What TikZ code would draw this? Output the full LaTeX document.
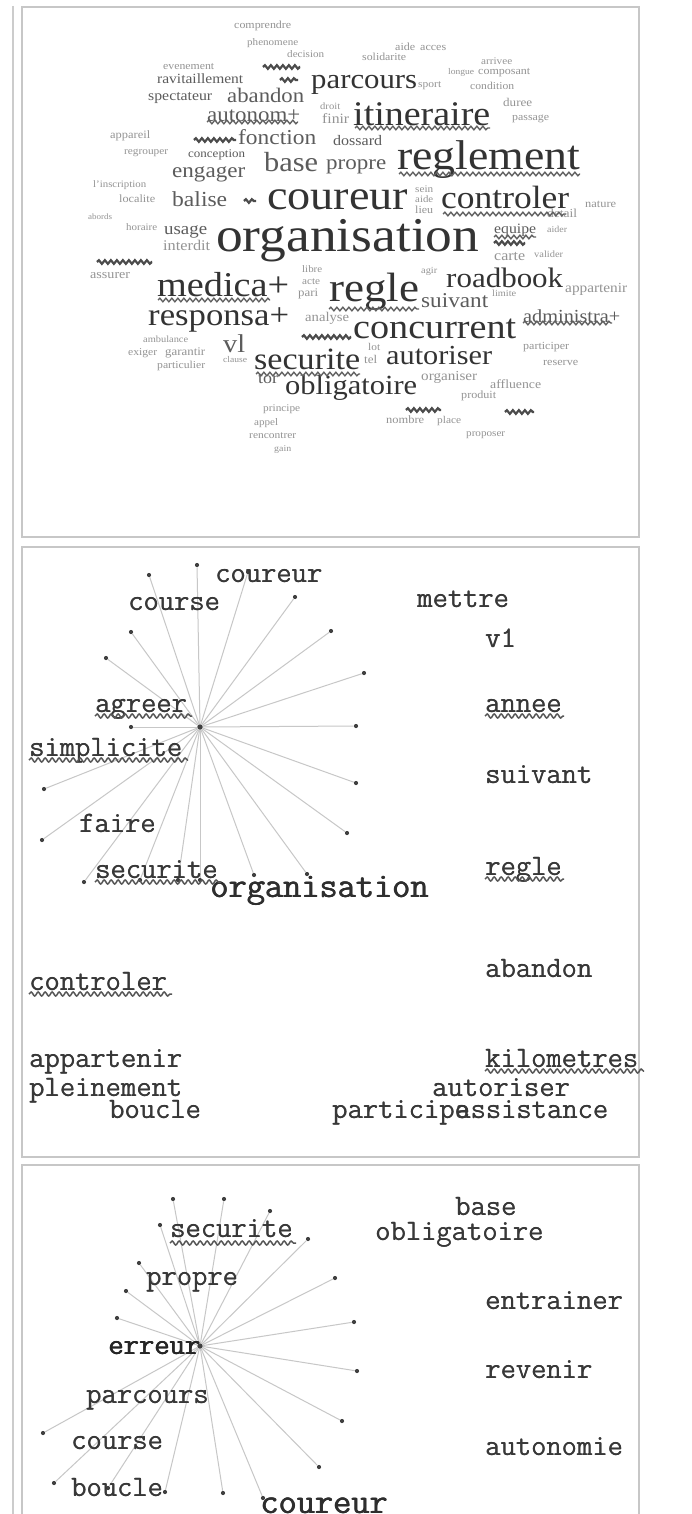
\documentclass[tikz,border=0pt]{standalone}
\usepackage{fontspec}
\setmainfont{Liberation Serif}
\usepackage{graphicx}
\usetikzlibrary{decorations.pathmorphing}
\newcommand\cw[2]{\resizebox{#1pt}{!}{\scalebox{1.1}[1]{#2}}}
\newcommand\fbold[1]{\rlap{\kern0.7pt#1}\rlap{\kern0.35pt#1}#1}
\newcommand\sbold[1]{\rlap{\kern0.3pt#1}#1}
\tikzset{
 panel/.style={draw=black!22, line width=1.5pt},
 big/.style={anchor=base west, inner sep=0pt, text=black!80},
 mid/.style={anchor=base west, inner sep=0pt, text=black!64},
 tiny/.style={anchor=base west, inner sep=0pt, text=black!42},
 wavy/.style={decorate, decoration={snake, segment length=6pt, amplitude=1.8pt}, line width=1.4pt, draw=black!62},
 squig/.style={wavy, line width=2.2pt, draw=black!70},
 mwavy/.style={decorate, decoration={snake, segment length=7pt, amplitude=2pt}, line width=1.5pt, draw=black!66},
 lab/.style={anchor=base west, inner sep=0pt, text=black!78, font=\ttfamily\fontsize{29.7}{29.7}\selectfont},
 labb/.style={lab, font=\ttfamily\fontsize{35.3}{35.3}\selectfont, text=black!82},
 dot/.style={circle, fill=black!75, inner sep=0pt, minimum size=4.2pt},
 hub/.style={dot, minimum size=5.5pt},
 edge/.style={draw=black!22, line width=1pt},
}
\begin{document}
\begin{tikzpicture}[x=1pt,y=-1pt]
\useasboundingbox (0,0) rectangle (692,1514);
\clip (0,0) rectangle (692,1514);
\fill[white] (0,0) rectangle (692,1514);
% frame lines
\draw[draw=black!20, line width=2.2pt] (13,6) -- (13,1520);
\draw[panel] (22,7) rectangle (639,537);
\draw[panel] (22,547) rectangle (639,1157);
\draw[panel] (22,1165) rectangle (639,1540);

% ---------------- word cloud ----------------
\foreach [count=\i] \x/\y/\w/\t in {
216/252/263/organisation, 397/170/183/reglement, 267/210/141/coureur,
353/126/137/itineraire, 329/301/90/regle, 441/209/128/controler,
157/296/132/medica+, 148/325/141/responsa+, 353/338/163/concurrent,
446/287/117/roadbook, 254/369/106/securite, 386/364/106/autoriser,
285/394/132/obligatoire, 311/89/106/parcours}
 {\node[big] (b\i) at (\x,\y) {\cw{\w}{\t}};}
\foreach [count=\i] \x/\y/\w/\t in {
227/103/77/abandon, 207/122/93/autonom+, 238/145/78/fonction,
264/172/54/base, 326/170/60/propre, 172/178/73/engager,
172/207/55/balise, 164/235/43/usage, 421/307/67/suivant,
223/352/22/vl, 523/322/97/administra+, 494/234/42/equipe,
333/146/49/dossard, 188/158/57/conception, 258/383/20/tor,
157/84/86/ravitaillement, 148/101/64/spectateur}
 {\node[mid] (m\i) at (\x,\y) {\cw{\w}{\t}};}
\foreach [count=\i] \x/\y/\w/\t in {
234/29/57/comprendre, 247/46/51/phenomene, 287/58/37/decision,
395/51/20/aide, 420/51/26/acces, 362/61/44/solidarite,
163/70/51/evenement, 481/65/31/arrivee, 418/88/23/sport,
448/75/26/longue, 478/75/52/composant, 470/90/44/condition,
320/110/20/droit, 503/107/29/duree, 512/121/37/passage,
322/124/27/finir, 110/139/40/appareil, 124/155/44/regrouper,
93/188/53/l'inscription, 119/203/36/localite, 88/220/24/abords,
126/231/31/horaire, 163/251/47/interdit, 90/278/40/assurer,
415/193/18/sein, 415/203/18/aide, 415/214/18/lieu,
585/208/31/nature, 547/218/30/detail, 547/233/20/aider,
494/260/31/carte, 534/258/29/valider, 302/272/20/libre,
302/284/18/acte, 298/296/20/pari, 421/273/16/agir,
565/292/62/appartenir, 492/296/24/limite, 305/321/44/analyse,
143/342/45/ambulance, 128/355/29/exiger, 165/355/40/garantir,
157/368/48/particulier, 223/362/24/clause, 368/350/12/lot,
364/363/13/tel, 421/380/56/organiser, 490/388/51/affluence,
461/398/35/produit, 263/411/37/principe, 254/425/24/appel,
249/438/47/rencontrer, 274/451/17/gain, 386/423/38/nombre,
437/423/24/place, 466/436/39/proposer, 523/349/46/participer,
543/365/35/reserve}
 {\node[tiny] (s\i) at (\x,\y) {\cw{\w}{\t}};}
% squiggles
\draw[squig] (263,67) -- (300,67);
\draw[squig] (280,80) -- (298,80);
\draw[squig] (194,140) -- (236,140);
\draw[squig] (244,201) -- (256,201);
\draw[squig] (97,262) -- (152,262);
\draw[squig] (406,410) -- (441,410);
\draw[squig] (505,412) -- (534,412);
\draw[squig] (494,243) -- (525,243);
\draw[squig] (302,337) -- (351,337);
% wavy underlines
\draw[wavy] (355,128) -- (490,128);
\draw[wavy] (207,122) -- (298,122);
\draw[wavy] (399,174) -- (580,174);
\draw[wavy] (443,214) -- (566,214);
\draw[wavy] (494,237) -- (536,237);
\draw[wavy] (158,300) -- (270,300);
\draw[wavy] (329,309) -- (419,309);
\draw[wavy] (523,323) -- (612,323);
\draw[wavy] (256,374) -- (360,374);

% ---------------- panel 2 ----------------
\node[hub] (h2) at (200,727) {};
\foreach [count=\i] \x/\y in {197/565,149/575,248/572,295/597,131/632,331/631,106/658,364/673,131/727,356/726,44/789,356/783,42/840,347/833,84/882,254/875,307/874,200/880,140/880,178/880}
 {\node[dot] (q\i) at (\x,\y) {}; \draw[edge] (h2) -- (q\i);}
\node[lab] (t2a) at (215,582) {\sbold{coureur}};
\node[lab] (t2b) at (128,610) {\sbold{course}};
\node[lab] (t2c) at (417,607) {\sbold{mettre}};
\node[lab] (t2d) at (485,647) {\sbold{v1}};
\node[lab] (t2e) at (95,712) {\sbold{agreer}};
\node[lab] (t2f) at (485,712) {\sbold{annee}};
\node[lab] (t2g) at (29,756) {\sbold{simplicite}};
\node[lab] (t2h) at (485,783) {\sbold{suivant}};
\node[lab] (t2i) at (79,832) {\sbold{faire}};
\node[lab] (t2j) at (485,875) {\sbold{regle}};
\node[lab] (t2k) at (95,878) {\sbold{securite}};
\node[labb] (t2l) at (210,897) {\fbold{organisation}};
\node[lab] (t2m) at (29,990) {\sbold{controler}};
\node[lab] (t2n) at (485,977) {\sbold{abandon}};
\node[lab] (t2o) at (29,1067) {\sbold{appartenir}};
\node[lab] (t2p) at (485,1067) {\sbold{kilometres}};
\node[lab] (t2q) at (29,1096) {\sbold{pleinement}};
\node[lab] (t2r) at (432,1096) {\sbold{autoriser}};
\node[lab] (t2s) at (109,1118) {\sbold{boucle}};
\node[lab] (t2t) at (332,1118) {\sbold{participe}};
\node[lab] (t2u) at (455,1118) {\sbold{assistance}};
\draw[mwavy] (95,716) -- (192,716);
\draw[mwavy] (485,716) -- (564,716);
\draw[mwavy] (29,760) -- (188,760);
\draw[mwavy] (485,879) -- (564,879);
\draw[mwavy] (95,882) -- (221,882);
\draw[mwavy] (29,994) -- (172,994);
\draw[mwavy] (485,1071) -- (644,1071);

% ---------------- panel 3 ----------------
\node[hub] (h3) at (200,1346) {};
\foreach [count=\i] \x/\y in {173/1199,224/1199,270/1211,160/1225,308/1239,139/1263,335/1278,126/1291,354/1322,117/1318,357/1371,43/1433,342/1421,319/1467,54/1483,108/1488,165/1492,223/1493,263/1498}
 {\node[dot] (r\i) at (\x,\y) {}; \draw[edge] (h3) -- (r\i);}
\node[lab] (t3a) at (455,1215) {\sbold{base}};
\node[lab] (t3b) at (375,1240) {\sbold{obligatoire}};
\node[lab] (t3c) at (170,1237) {\sbold{securite}};
\node[lab] (t3d) at (146,1285) {\sbold{propre}};
\node[lab] (t3e) at (485,1309) {\sbold{entrainer}};
\node[lab, text=black!85] (t3f) at (108,1354) {\fbold{erreur}};
\node[lab] (t3g) at (485,1378) {\sbold{revenir}};
\node[lab] (t3h) at (86,1403) {\sbold{parcours}};
\node[lab] (t3i) at (71,1449) {\sbold{course}};
\node[lab] (t3j) at (485,1455) {\sbold{autonomie}};
\node[lab] (t3k) at (71,1496) {\sbold{boucle}};
\node[labb] (t3l) at (260,1513) {\fbold{coureur}};
\draw[mwavy] (170,1243) -- (296,1243);
\end{tikzpicture}
\end{document}
